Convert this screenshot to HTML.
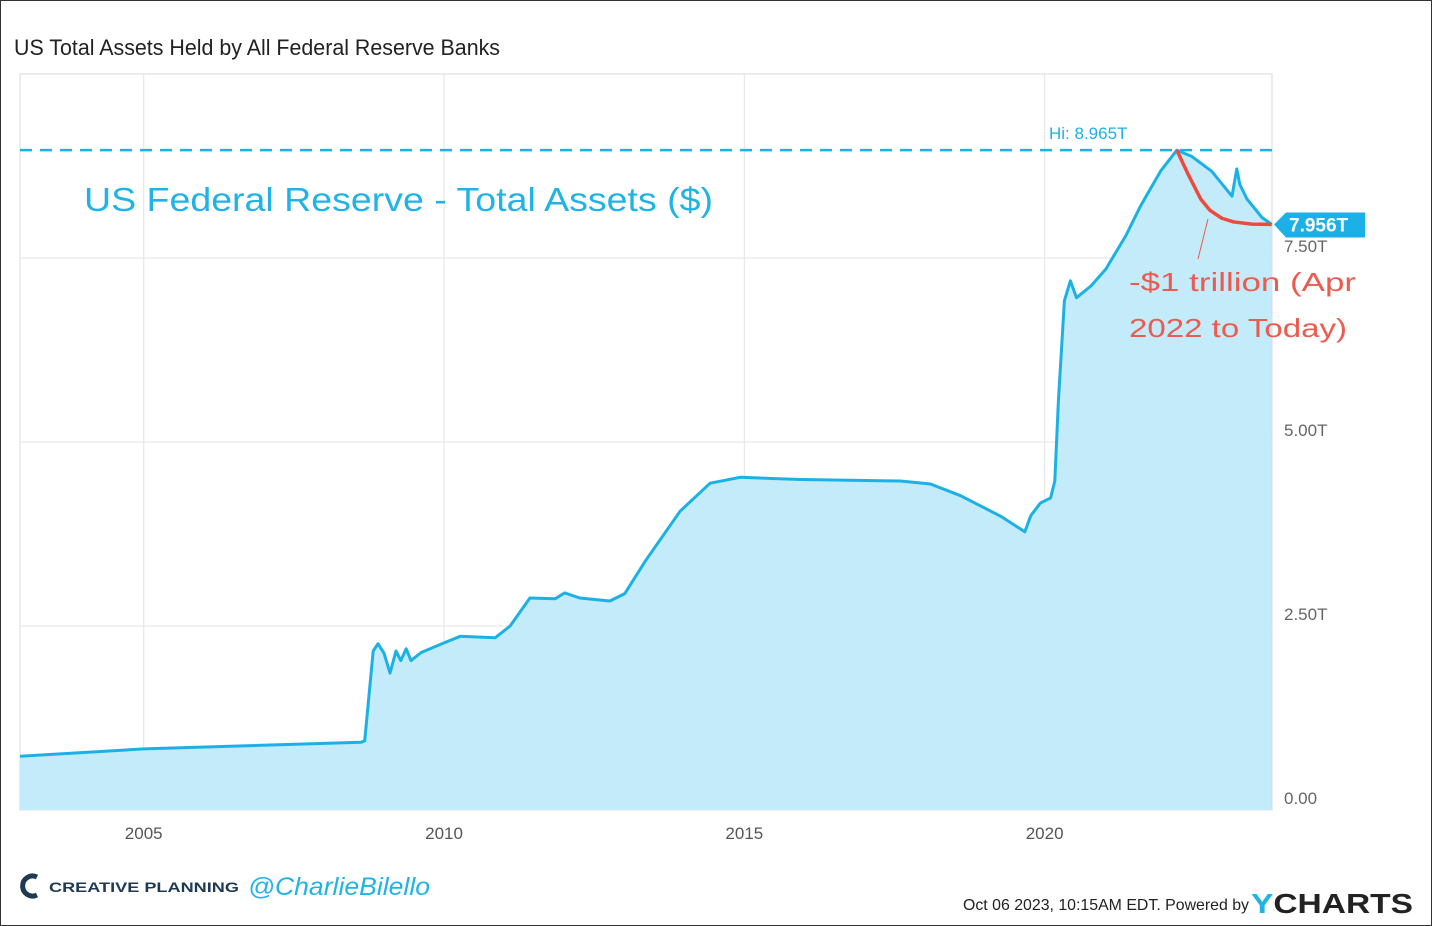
<!DOCTYPE html>
<html><head><meta charset="utf-8"><style>
body{margin:0;background:#fff;}
#wrap{position:relative;width:1430px;height:924px;border:1px solid #333;overflow:hidden;font-family:"Liberation Sans",sans-serif;}
svg text{font-family:"Liberation Sans",sans-serif;}
</style></head><body>
<div id="wrap">
<svg id="chart" width="1430" height="924">
<text x="13" y="54" font-size="22" fill="#222" textLength="486" lengthAdjust="spacingAndGlyphs">US Total Assets Held by All Federal Reserve Banks</text>
<rect x="19" y="73" width="1252" height="736" fill="none" stroke="#d9d9d9"/>
<g id="grid"></g>
<g id="series"></g>
<g id="axes"></g>
<text x="83" y="210" font-size="33" fill="#1fb3e6" textLength="629" lengthAdjust="spacingAndGlyphs">US Federal Reserve - Total Assets ($)</text>
<text x="1128" y="290" font-size="26" fill="#ec5b50" textLength="227" lengthAdjust="spacingAndGlyphs">-$1 trillion (Apr</text>
<text x="1128" y="336" font-size="26" fill="#ec5b50" textLength="218" lengthAdjust="spacingAndGlyphs">2022 to Today)</text>
<line x1="1207" y1="218" x2="1197" y2="258" stroke="#ec5b50" stroke-width="1"/>
<g>
<path d="M36 876 a10 10 0 1 0 0 18" fill="none" stroke="#1f3a55" stroke-width="5"/>
<text x="48" y="891" font-size="14" font-weight="bold" fill="#1f3a55" textLength="190" lengthAdjust="spacingAndGlyphs">CREATIVE PLANNING</text>
</g>
<text x="247" y="894" font-size="25" font-style="italic" fill="#1fb3e6" textLength="182" lengthAdjust="spacingAndGlyphs">@CharlieBilello</text>
<text x="962" y="909" font-size="16" fill="#222" textLength="286" lengthAdjust="spacingAndGlyphs">Oct 06 2023, 10:15AM EDT.  Powered by</text>
<text x="1250" y="912" font-size="28" font-weight="bold" fill="#222" textLength="162" lengthAdjust="spacingAndGlyphs"><tspan fill="#1fb3e6">Y</tspan>CHARTS</text>
</svg>
</div>
<script>
const yearTicks=[2005,2010,2015,2020];
const valueTicks=[0,2.5,5,7.5];
const valueTickLabels=["0.00","2.50T","5.00T","7.50T"];
const dates=[2002.94,2005.0,2008.62,2008.68,2008.82,2008.9,2009.0,2009.1,2009.2,2009.28,2009.37,2009.45,2009.62,2010.0,2010.27,2010.85,2011.1,2011.43,2011.85,2012.01,2012.26,2012.76,2013.01,2013.35,2013.93,2014.43,2014.93,2015.93,2017.6,2018.1,2018.6,2019.27,2019.67,2019.77,2019.93,2020.1,2020.17,2020.23,2020.33,2020.43,2020.53,2020.77,2021.02,2021.35,2021.6,2021.93,2022.2,2022.45,2022.78,2023.12,2023.2,2023.25,2023.37,2023.62,2023.78];
const values=[0.73,0.83,0.92,0.94,2.16,2.26,2.13,1.86,2.16,2.03,2.19,2.03,2.14,2.27,2.36,2.34,2.5,2.88,2.87,2.95,2.88,2.84,2.94,3.38,4.06,4.44,4.52,4.49,4.47,4.43,4.27,3.99,3.78,4.0,4.17,4.24,4.47,5.56,6.92,7.19,6.96,7.12,7.35,7.8,8.21,8.68,8.965,8.88,8.68,8.34,8.71,8.5,8.3,8.05,7.956];
const hiValue=8.965;
const lastValue=7.956;
const trendDates=[2022.2,2022.4,2022.6,2022.75,2022.95,2023.15,2023.45,2023.78];
const trendValues=[8.965,8.62,8.3,8.15,8.04,7.99,7.96,7.956];
const NS="http://www.w3.org/2000/svg";
const x=d=>19+(d-2002.94)*60.06;
const y=v=>809-v*73.6;
function mk(tag,attrs,parent){const e=document.createElementNS(NS,tag);for(const k in attrs)e.setAttribute(k,attrs[k]);parent.appendChild(e);return e;}
const grid=document.getElementById('grid'),series=document.getElementById('series'),axes=document.getElementById('axes');
yearTicks.forEach(t=>{
 const l=mk('line',{x1:x(t),x2:x(t),y1:73,y2:809,stroke:'#e3e3e3'},grid);
 
 
 const tx=mk('text',{x:x(t),y:838,'font-size':17,fill:'#555','text-anchor':'middle'},axes);
 tx.textContent=t;
 
 
});
valueTicks.forEach((t,i)=>{
 const l=mk('line',{x1:19,x2:1271,y1:y(t),y2:y(t),stroke:'#e3e3e3'},grid);
 
 
 const tx=mk('text',{x:1283,y:y(t)-6,'font-size':17,fill:'#666'},axes);
 tx.textContent=valueTickLabels[i];
 
 
});
let pts=dates.map((d,i)=>x(d).toFixed(1)+','+y(values[i]).toFixed(1));
const area=mk('path',{d:'M'+x(dates[0])+','+y(0)+' L'+pts.join(' L')+' L'+x(dates[dates.length-1])+','+y(0)+' Z',fill:'#c3ebf9'},series);


const line=mk('polyline',{points:pts.join(' '),fill:'none',stroke:'#1cb1e6','stroke-width':3,'stroke-linejoin':'round'},series);


const hi=mk('line',{x1:19,x2:1271,y1:y(hiValue),y2:y(hiValue),stroke:'#1cb1e6','stroke-width':2.5,'stroke-dasharray':'12,8'},series);


const hit=mk('text',{x:1048,y:y(hiValue)-11,'font-size':17,fill:'#1cb1e6'},series);
hit.textContent='Hi: '+hiValue.toFixed(3)+'T';


const tr=mk('polyline',{points:trendDates.map((d,i)=>x(d)+','+y(trendValues[i])).join(' '),fill:'none',stroke:'#ec4a3c','stroke-width':3.5,'stroke-linejoin':'round'},series);


const ly=y(lastValue);
const flag=mk('path',{d:`M1273,${ly} L1285,${ly-12} L1364,${ly-12} L1364,${ly+13} L1285,${ly+13} Z`,fill:'#1cb1e6'},axes);


const ft=mk('text',{x:1288,y:ly+7,'font-size':19,'font-weight':'bold',fill:'#fff'},axes);
ft.textContent=lastValue.toFixed(3)+'T';


</script>
</body></html>
